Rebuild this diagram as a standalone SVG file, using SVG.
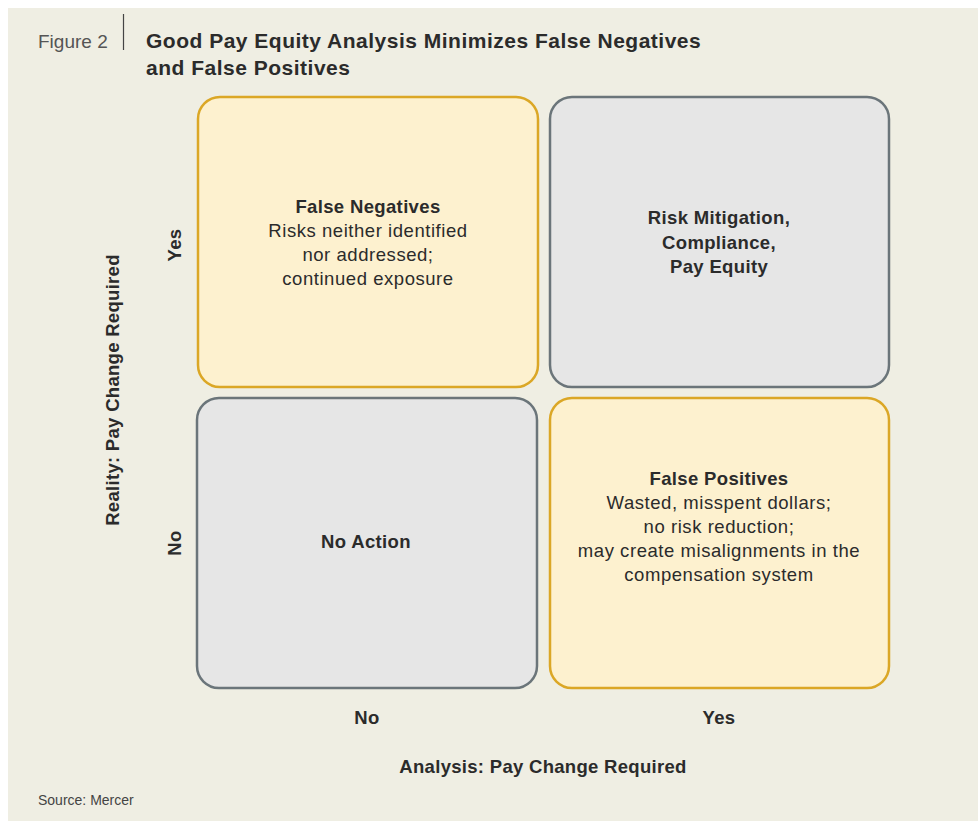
<svg xmlns="http://www.w3.org/2000/svg" width="978" height="821" viewBox="0 0 978 821">
<style>
text{font-family:"Liberation Sans",Arial,sans-serif;fill:#2b2b2b}
.b{font-weight:bold}
.t{font-size:18.5px;text-anchor:middle;letter-spacing:0.55px}
.tb{font-weight:bold;letter-spacing:0.35px}
.ax{font-size:18.5px;text-anchor:middle;font-weight:bold;letter-spacing:0.3px}
.y{fill:#fdf1cf;stroke:#dba726;stroke-width:2.5}
.g{fill:#e6e6e6;stroke:#6b757a;stroke-width:2.5}
</style>
<rect x="0" y="0" width="978" height="821" fill="#ffffff"/>
<rect x="8" y="8" width="970" height="813" fill="#efeee3"/>
<g id="header">
<text x="38" y="48" style="font-size:19px;fill:#555">Figure 2</text>
<line x1="123.5" y1="14" x2="123.5" y2="50" stroke="#444" stroke-width="1.2"/>
<text class="b" x="146" y="48" style="font-size:21px;letter-spacing:0.5px">Good Pay Equity Analysis Minimizes False Negatives</text>
<text class="b" x="146" y="75" style="font-size:21px;letter-spacing:0.5px">and False Positives</text>
</g>
<g id="fn">
<rect class="y" x="198" y="97" width="340" height="290" rx="22"/>
<text class="t tb" x="368" y="213">False Negatives</text>
<text class="t" x="368" y="237">Risks neither identified</text>
<text class="t" x="368" y="261">nor addressed;</text>
<text class="t" x="368" y="285">continued exposure</text>
</g>
<g id="rm">
<rect class="g" x="550" y="97" width="339" height="290" rx="22"/>
<text class="t tb" x="719" y="224">Risk Mitigation,</text>
<text class="t tb" x="719" y="249">Compliance,</text>
<text class="t tb" x="719" y="273">Pay Equity</text>
</g>
<g id="na">
<rect class="g" x="197" y="398" width="340" height="290" rx="22"/>
<text class="t tb" x="366" y="548">No Action</text>
</g>
<g id="fp">
<rect class="y" x="550" y="398" width="339" height="290" rx="22"/>
<text class="t tb" x="719" y="485">False Positives</text>
<text class="t" x="719" y="509">Wasted, misspent dollars;</text>
<text class="t" x="719" y="533">no risk reduction;</text>
<text class="t" x="719" y="557">may create misalignments in the</text>
<text class="t" x="719" y="581">compensation system</text>
</g>
<g id="axes">
<text class="ax" transform="translate(181,245) rotate(-90)">Yes</text>
<text class="ax" transform="translate(181,543) rotate(-90)">No</text>
<text class="ax" transform="translate(119,390) rotate(-90)">Reality: Pay Change Required</text>
<text class="ax" x="367" y="724">No</text>
<text class="ax" x="719" y="724">Yes</text>
<text class="ax" x="543" y="773">Analysis: Pay Change Required</text>
</g>
<g id="connectors"></g>
<text x="38" y="805" style="font-size:14px;fill:#444">Source: Mercer</text>
</svg>
